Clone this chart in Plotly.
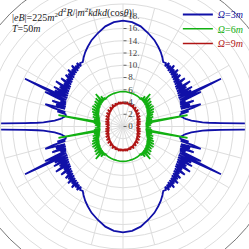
import plotly.graph_objects as go

# ---- data: one quadrant (angle from the horizontal, degrees) per series; mirrored to full circle
blue_theta = [0, 0.5, 1, 1.5, 2, 2.5, 3, 4, 5, 6, 7, 8, 9, 10, 11,
              12, 13, 14, 15, 16, 17, 18, 19, 20, 21, 22, 23, 24, 25, 26, 27, 28, 29, 30,
              31, 32, 33, 34, 35, 36, 37, 38, 39, 40, 41, 42, 43, 44, 45, 46, 47, 48, 49, 50,
              51, 52, 53, 54, 55, 56, 58, 60, 63, 66, 70, 75, 80, 85, 90]
blue_r = [40, 32, 24, 19.5, 16, 14, 13, 12, 11.2, 10.7, 10.3, 10.0, 9.8, 9.6, 9.5,
          9.6, 11.0, 9.7, 11.8, 13.2, 9.9, 11.5, 9.9, 12.3, 10.0, 11.0, 10.1, 13.9, 10.2, 17.8, 10.2, 12.6, 10.3, 13.0,
          10.4, 12.2, 10.5, 13.2, 10.6, 11.9, 10.7, 12.8, 10.9, 12.0, 11.0, 12.6, 11.2, 12.4, 11.3, 12.9, 11.5, 12.5, 11.6, 13.0,
          11.7, 12.6, 11.9, 12.8, 12.0, 12.5, 12.4, 12.9, 13.6, 14.2, 15.0, 15.8, 16.6, 17.1, 17.3]

green_theta = [0, 1, 2, 3, 4, 5, 6, 7, 8, 10, 11, 12, 13, 14, 15, 16, 17, 18, 19, 20,
               21, 22, 23, 24, 25, 26, 27, 28, 29, 30, 31, 32, 33, 34, 35, 36, 37, 38, 39, 40,
               41, 42, 43, 44, 45, 46, 47, 48, 49, 50, 51, 52, 53, 54, 55, 57, 58, 60, 65, 70,
               75, 80, 85, 90]
green_r = [3.7, 4.3, 3.7, 4.6, 3.7, 4.2, 3.8, 4.8, 3.7, 10.7, 3.8, 4.5, 3.9, 4.9, 3.9, 4.4, 4.0, 5.2, 4.0, 4.6,
           4.1, 5.3, 4.2, 4.7, 4.3, 5.6, 4.4, 5.0, 4.5, 5.8, 4.5, 5.1, 4.6, 6.0, 4.7, 5.3, 4.8, 5.9, 4.8, 5.5,
           4.9, 6.2, 5.0, 5.6, 5.0, 6.4, 5.1, 5.8, 5.1, 6.9, 5.2, 5.7, 5.2, 6.1, 5.3, 5.6, 5.3, 5.4, 5.5, 5.55,
           5.6, 5.65, 5.7, 5.7]

red_theta = [0, 2, 4, 6, 8, 10, 12, 14, 16, 18, 20, 22, 24, 26, 28, 30, 32, 34, 36, 38, 40, 42, 44,
             46, 48, 50, 52, 54, 56, 58, 60, 62, 64, 66, 68, 70, 72, 74, 76, 78, 80, 82, 84, 86, 88, 90]
red_r = [2.8, 2.3, 2.6, 2.2, 2.9, 2.4, 2.7, 2.3, 3.0, 2.4, 2.6, 2.5, 3.1, 2.5, 2.8, 2.6, 3.3, 2.7, 3.0, 2.8,
         3.5, 2.9, 3.2, 3.0, 3.7, 3.1, 3.4, 3.2, 3.8, 3.3, 3.6, 3.4, 4.0, 3.5, 3.7, 3.6, 4.0, 3.6, 3.9, 3.7,
         4.1, 3.7, 3.9, 3.7, 4.0, 3.8]

series_names = ["<span style='color:#1414a0'><i>Ω</i>=3<i>m</i></span>",
                "<span style='color:#12b012'><i>Ω</i>=6<i>m</i></span>",
                "<span style='color:#b01414'><i>Ω</i>=9<i>m</i></span>"]
series_colors = ["#1010a8", "#12b012", "#b01414"]
legend_ids = ["legend", "legend2", "legend3"]
legend_rows_y = [0.958, 0.899, 0.839]

radial_ticks = [0, 2, 4, 6, 8, 10, 12, 14, 16, 18]
radial_ticktext = ["0", "2.", "4.", "6.", "8.", "10.", "12.", "14.", "16.", "18."]


def mirror(th, r):
    t_full = (list(th) + [180 - t for t in th[::-1]] +
              [180 + t for t in th] + [360 - t for t in th[::-1]])
    r_full = list(r) + list(r[::-1]) + list(r) + list(r[::-1])
    return t_full, r_full


fig = go.Figure()
for (th, rr), name, col, lg, w in zip([(blue_theta, blue_r), (green_theta, green_r), (red_theta, red_r)],
                                      series_names, series_colors, legend_ids, [1.8, 1.6, 1.6]):
    t_full, r_full = mirror(th, rr)
    fig.add_trace(go.Scatterpolar(theta=t_full, r=r_full, mode="lines", name=name, legend=lg,
                                  line=dict(color=col, width=w)))

grid = "#dddddd"
legend_style = dict(x=0.723, xanchor="left", yanchor="middle", bgcolor="rgba(0,0,0,0)",
                    font=dict(family="Liberation Serif", size=10), itemwidth=30)
fig.update_layout(
    width=249, height=249,
    margin=dict(l=0, r=0, t=0, b=0),
    paper_bgcolor="white",
    font=dict(family="Liberation Serif", size=10, color="#333"),
    polar=dict(
        domain=dict(x=[0, 1], y=[0, 1]),
        bgcolor="white",
        radialaxis=dict(range=[0, 20], angle=90, tickangle=90, side="clockwise",
                        tickvals=radial_ticks, ticktext=radial_ticktext,
                        ticks="outside", ticklen=3, tickcolor="#666",
                        tickfont=dict(family="Liberation Serif", size=9, color="#444"),
                        showline=False, gridcolor=grid, gridwidth=1),
        angularaxis=dict(dtick=15, showticklabels=False, ticks="", gridcolor=grid,
                         linecolor=grid, linewidth=1, showline=True),
    ),
    legend=dict(y=legend_rows_y[0], **legend_style),
    legend2=dict(y=legend_rows_y[1], **legend_style),
    legend3=dict(y=legend_rows_y[2], **legend_style),
    showlegend=True,
)

# outer rings of the (larger) polar frame visible in the corners
for rad, col in [(0.55, grid), (0.60, grid), (0.65, "#777777")]:
    fig.add_shape(type="circle", xref="paper", yref="paper",
                  x0=0.5 - rad, x1=0.5 + rad, y0=0.5 - rad, y1=0.5 + rad,
                  line=dict(color=col, width=1), layer="below")

fig.add_annotation(xref="paper", yref="paper", x=0.04, y=0.948, xanchor="left", yanchor="middle",
                   text="|<i>eB</i>|=225<i>m</i><sup>2</sup>", showarrow=False,
                   font=dict(family="Liberation Serif", size=10, color="#222"))
fig.add_annotation(xref="paper", yref="paper", x=0.04, y=0.902, xanchor="left", yanchor="middle",
                   text="<i>T</i>=50<i>m</i>", showarrow=False,
                   font=dict(family="Liberation Serif", size=10, color="#222"))
fig.add_annotation(xref="paper", yref="paper", x=0.228, y=1.0, xanchor="left", yanchor="top",
                   text="<i>d</i><sup>2</sup><i>R</i>/|<i>m</i><sup>2</sup><i>kdkd</i>(cos<i>θ</i>)|",
                   showarrow=False,
                   font=dict(family="Liberation Serif", size=10, color="#222"))

# page body has a default 8px margin; remove it so the 249x249 figure fills the window
fig.write_html("out.html", config={"displayModeBar": False},
               post_script="document.body.style.margin='0';")
